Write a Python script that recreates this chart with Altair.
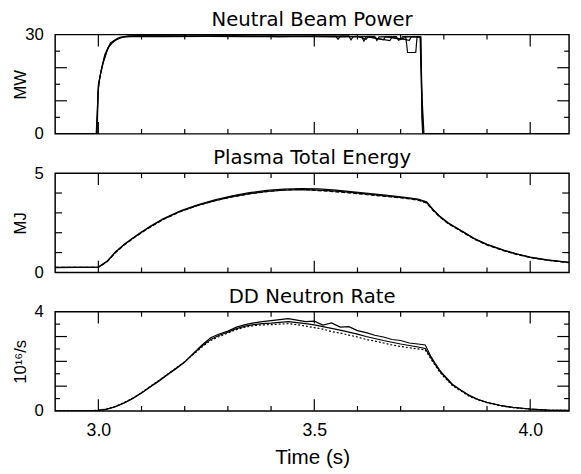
import altair as alt
import pandas as pd

# ---------------- shared time axis ----------------
X_DOMAIN = [2.9, 4.09]
X_MAJOR = [3.0, 3.5, 4.0]
X_MINOR = [3.1, 3.2, 3.3, 3.4, 3.6, 3.7, 3.8, 3.9]

# ---------------- panel 1: Neutral Beam Power (MW) ----------------
P_YDOM = [0, 30]
P_YLABELS = [0, 30]
P_YMAJOR = [10, 20]
P_YMINOR = [5, 15, 25]

P_t_a = [2.9, 2.995, 2.998, 3.0, 3.005, 3.01, 3.015, 3.02, 3.025, 3.03, 3.04, 3.05, 3.06, 3.08,
         3.15, 3.25, 3.35, 3.45, 3.55, 3.6, 3.62, 3.625, 3.66, 3.665, 3.7, 3.705, 3.745, 3.748, 3.752, 4.09]
P_v_a = [0, 0, 8, 15, 18, 21, 23, 25, 26.5, 27.3, 28.3, 28.9, 29.3, 29.5,
         29.4, 29.5, 29.4, 29.5, 29.3, 29.5, 28.6, 29.4, 28.4, 29.4, 28.6, 29.4, 29.3, 15, 0, 0]

P_t_b = [2.9, 2.996, 2.999, 3.003, 3.012, 3.022, 3.035, 3.05, 3.07, 3.2, 3.3, 3.4, 3.5, 3.58,
         3.585, 3.59, 3.64, 3.645, 3.65, 3.69, 3.695, 3.712, 3.716, 3.735, 3.738, 3.746, 3.75, 3.754, 4.09]
P_v_b = [0, 0, 12, 17, 22, 26, 28, 29.2, 29.6, 29.6, 29.5, 29.6, 29.5, 29.6,
         28.4, 29.4, 29.5, 28.2, 29.3, 29.4, 28.3, 29.2, 24.6, 24.6, 29.3, 29.3, 10, 0, 0]

P_t_c = [2.9, 2.997, 3.0, 3.006, 3.015, 3.028, 3.045, 3.065, 3.1, 3.2, 3.3, 3.42, 3.5, 3.55,
         3.555, 3.56, 3.61, 3.615, 3.62, 3.675, 3.68, 3.72, 3.725, 3.747, 3.749, 3.751, 4.09]
P_v_c = [0, 0, 14, 19, 24, 27.5, 29.0, 29.4, 29.6, 29.5, 29.7, 29.4, 29.6, 29.5,
         28.6, 29.5, 29.3, 28.0, 29.4, 28.2, 29.2, 28.3, 29.4, 29.3, 5, 0, 0]

# ---------------- panel 2: Plasma Total Energy (MJ) ----------------
E_YDOM = [0, 5]
E_YLABELS = [0, 5]
E_YTICKS = [1, 2, 3, 4]

E_t = [2.90, 2.95, 3.00, 3.02, 3.04, 3.06, 3.08, 3.10, 3.12, 3.15, 3.19, 3.23, 3.27, 3.31, 3.35,
       3.39, 3.43, 3.47, 3.51, 3.55, 3.59, 3.63, 3.67, 3.71, 3.74, 3.76, 3.775, 3.79, 3.81, 3.83,
       3.85, 3.87, 3.90, 3.94, 3.97, 4.00, 4.04, 4.09]
E_a = [0.25, 0.25, 0.26, 0.55, 1.02, 1.40, 1.72, 2.02, 2.30, 2.68, 3.08, 3.38, 3.62, 3.82, 3.97,
       4.08, 4.14, 4.17, 4.15, 4.10, 4.02, 3.93, 3.84, 3.75, 3.66, 3.52, 3.15, 2.82, 2.48, 2.22,
       1.96, 1.70, 1.40, 1.10, 0.92, 0.76, 0.62, 0.50]
E_b = [0.24, 0.25, 0.27, 0.56, 1.04, 1.42, 1.74, 2.04, 2.32, 2.70, 3.10, 3.41, 3.66, 3.86, 4.02,
       4.13, 4.20, 4.22, 4.21, 4.15, 4.06, 3.97, 3.88, 3.78, 3.70, 3.56, 3.18, 2.85, 2.50, 2.24,
       1.98, 1.72, 1.42, 1.12, 0.93, 0.77, 0.63, 0.51]
E_c = [0.25, 0.26, 0.26, 0.53, 1.00, 1.38, 1.70, 2.00, 2.28, 2.66, 3.06, 3.37, 3.61, 3.80, 3.96,
       4.07, 4.16, 4.19, 4.12, 4.06, 3.99, 3.90, 3.82, 3.74, 3.64, 3.50, 3.12, 2.80, 2.46, 2.20,
       1.94, 1.68, 1.38, 1.08, 0.90, 0.75, 0.61, 0.49]

# ---------------- panel 3: DD Neutron Rate (10^16/s) ----------------
N_YDOM = [0, 4]
N_YLABELS = [0, 4]
N_YMAJOR = [1, 2, 3]
N_YMINOR = [0.5, 1.5, 2.5, 3.5]

N_t = [2.90, 2.98, 3.00, 3.02, 3.04, 3.06, 3.08, 3.10, 3.12, 3.14, 3.16, 3.18, 3.20, 3.22, 3.24,
       3.26, 3.28, 3.30, 3.32, 3.34, 3.36, 3.38, 3.40, 3.42, 3.44, 3.46, 3.48, 3.50, 3.52, 3.54,
       3.56, 3.58, 3.60, 3.62, 3.64, 3.66, 3.68, 3.70, 3.72, 3.74, 3.757, 3.77, 3.78, 3.79, 3.80,
       3.82, 3.84, 3.86, 3.88, 3.90, 3.93, 3.96, 4.00, 4.04, 4.09]
N_a = [0.00, 0.00, 0.03, 0.08, 0.18, 0.33, 0.51, 0.73, 0.98, 1.22, 1.47, 1.72, 1.98, 2.30, 2.62,
       2.88, 3.05, 3.17, 3.32, 3.42, 3.48, 3.52, 3.54, 3.57, 3.60, 3.56, 3.52, 3.47, 3.40, 3.33,
       3.26, 3.18, 3.10, 3.00, 2.92, 2.84, 2.77, 2.70, 2.64, 2.58, 2.52, 2.15, 1.88, 1.62, 1.42,
       1.05, 0.82, 0.60, 0.45, 0.34, 0.22, 0.14, 0.08, 0.04, 0.02]
N_b = [0.00, 0.00, 0.02, 0.07, 0.17, 0.32, 0.50, 0.72, 0.97, 1.20, 1.46, 1.70, 1.97, 2.32, 2.66,
       2.95, 3.10, 3.22, 3.38, 3.48, 3.55, 3.60, 3.64, 3.68, 3.72, 3.66, 3.60, 3.62, 3.46, 3.55,
       3.38, 3.40, 3.24, 3.16, 3.05, 2.98, 2.88, 2.84, 2.74, 2.70, 2.66, 2.20, 1.92, 1.66, 1.45,
       1.08, 0.84, 0.62, 0.46, 0.35, 0.23, 0.15, 0.08, 0.04, 0.03]
N_c = [0.00, 0.01, 0.03, 0.09, 0.19, 0.34, 0.52, 0.74, 0.99, 1.23, 1.48, 1.73, 1.99, 2.28, 2.58,
       2.84, 3.00, 3.14, 3.28, 3.38, 3.44, 3.47, 3.48, 3.50, 3.52, 3.48, 3.42, 3.36, 3.30, 3.20,
       3.14, 3.06, 2.98, 2.88, 2.82, 2.74, 2.66, 2.60, 2.55, 2.50, 2.46, 2.10, 1.84, 1.58, 1.38,
       1.02, 0.80, 0.58, 0.44, 0.33, 0.21, 0.13, 0.07, 0.03, 0.02]

W, H = 523, 101
MAJOR_LEN, MINOR_LEN, MID_LEN = 12, 5, 7


def xsc():
    return alt.Scale(domain=X_DOMAIN, nice=False, zero=False)


def ysc(dom):
    return alt.Scale(domain=dom, nice=False, zero=False)


def line_layer(t, v, dom, xa, ya, dash=None):
    df = pd.DataFrame({"t": t, "v": v})
    kw = dict(color="black", strokeWidth=1.2, clip=True, interpolate="linear")
    if dash:
        kw["strokeDash"] = dash
    return alt.Chart(df).mark_line(**kw).encode(
        x=alt.X("t:Q", scale=xsc(), axis=xa),
        y=alt.Y("v:Q", scale=ysc(dom), axis=ya),
        order="t:Q",
    )


def xticks(vals, length, xa):
    df = pd.DataFrame({"t": vals})
    bottom = alt.Chart(df).mark_rule(color="black", strokeWidth=1.2).encode(
        x=alt.X("t:Q", scale=xsc(), axis=xa), y=alt.value(H), y2=alt.value(H - length))
    top = alt.Chart(df).mark_rule(color="black", strokeWidth=1.2).encode(
        x=alt.X("t:Q", scale=xsc(), axis=xa), y=alt.value(0), y2=alt.value(length))
    return [bottom, top]


def yticks(vals, length, dom, ya):
    df = pd.DataFrame({"v": vals})
    left = alt.Chart(df).mark_rule(color="black", strokeWidth=1.2).encode(
        y=alt.Y("v:Q", scale=ysc(dom), axis=ya), x=alt.value(0), x2=alt.value(length))
    right = alt.Chart(df).mark_rule(color="black", strokeWidth=1.2).encode(
        y=alt.Y("v:Q", scale=ysc(dom), axis=ya), x=alt.value(W), x2=alt.value(W - length))
    return [left, right]


def yaxis(labels, title):
    return alt.Axis(values=labels, ticks=False, domain=False, grid=False,
                    labelFontSize=17, labelPadding=12, labelColor="black",
                    title=title, titleFontSize=17, titleFontWeight="normal", titleColor="black",
                    titleX=-26, titleY=H / 2, titleAngle=270, titleBaseline="bottom",
                    titleAlign="center")


xaxis_bottom = alt.Axis(values=X_MAJOR, format=".1f", ticks=False, domain=False, grid=False,
                        labelFontSize=18, labelPadding=11, labelColor="black",
                        title="Time (s)", titleFontSize=21, titleFontWeight="normal",
                        titleColor="black", titlePadding=7)

title_kw = dict(font="DejaVu Sans", fontSize=20, fontWeight="normal", color="black",
                anchor="middle", offset=-4)


def panel(traces, dom, xa, ya, ymajor, yminor, ylen_major, ylen_minor, title):
    layers = [line_layer(t, v, dom, xa, ya, dash) for (t, v, dash) in traces]
    layers += xticks(X_MAJOR, MAJOR_LEN, xa) + xticks(X_MINOR, MINOR_LEN, xa)
    if ymajor:
        layers += yticks(ymajor, ylen_major, dom, ya)
    if yminor:
        layers += yticks(yminor, ylen_minor, dom, ya)
    return alt.layer(*layers).properties(
        width=W, height=H, title=alt.TitleParams(title, **title_kw))


p1 = panel([(P_t_a, P_v_a, None), (P_t_b, P_v_b, None), (P_t_c, P_v_c, None)],
           P_YDOM, None, yaxis(P_YLABELS, "MW"), P_YMAJOR, P_YMINOR, MAJOR_LEN, MINOR_LEN,
           "Neutral Beam Power")
p2 = panel([(E_t, E_a, None), (E_t, E_b, None), (E_t, E_c, [4, 2])],
           E_YDOM, None, yaxis(E_YLABELS, "MJ"), E_YTICKS, None, MID_LEN, MID_LEN,
           "Plasma Total Energy")
p3 = panel([(N_t, N_a, None), (N_t, N_b, None), (N_t, N_c, [2, 2])],
           N_YDOM, xaxis_bottom, yaxis(N_YLABELS, "10¹⁶/s"), N_YMAJOR, N_YMINOR,
           MAJOR_LEN, MINOR_LEN, "DD Neutron Rate")

chart = alt.vconcat(p1, p2, p3, spacing=5).properties(
    padding={"left": 3, "top": -3, "right": 2, "bottom": 0}
).configure(font="Liberation Sans", background="white").configure_view(
    stroke="black", strokeWidth=1.5)

chart.save("out.html", embed_options={"renderer": "svg", "actions": False})
